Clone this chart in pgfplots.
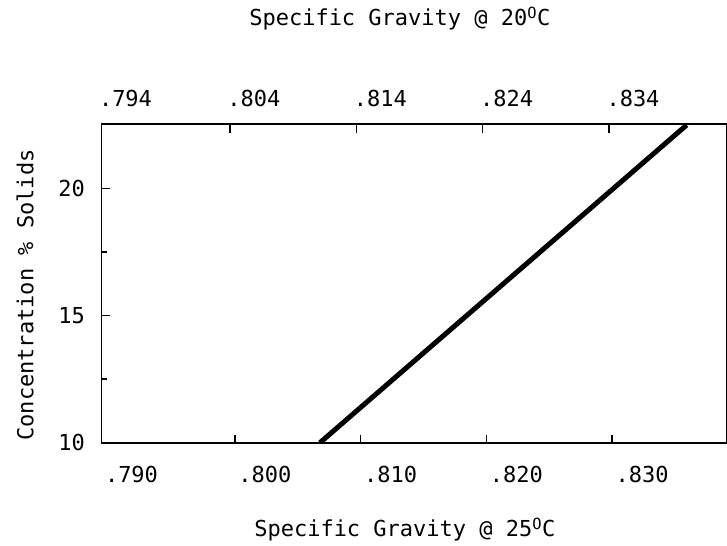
\documentclass[border=0pt]{standalone}
\usepackage{fontspec}
\setmainfont{DejaVu Sans Mono}
\usepackage{pgfplots}
\pgfplotsset{compat=1.18}
\begin{document}
\fontsize{22bp}{26bp}\selectfont
\begin{tikzpicture}
% bottom scale: specific gravity at 25 C
\begin{axis}[
  scale only axis,
  width=625.5bp, height=318.7bp,
  at={(0,0)}, anchor=south west,
  xmin=0.78938, xmax=0.83915,
  ymin=10, ymax=22.53,
  axis line style={line width=1.6bp},
  tick align=inside,
  xtick pos=left, ytick pos=left,
  xtick={0.78938,0.800,0.810,0.820,0.830},
  xticklabels={.790,.800,.810,.820,.830},
  ytick={10,15,20},
  yticklabels={10,15,20},
  minor ytick={12.5,17.5},
  major tick length=8bp, minor tick length=5bp,
  every tick/.style={black, line width=1.4bp},
  xticklabel style={anchor=north, xshift=30bp, yshift=-15.5bp},
  yticklabel style={anchor=east, xshift=-9bp},
  xlabel={Specific Gravity @ 25\textsuperscript{O}C},
  xlabel style={at={(axis description cs:0.485,-0.2954)}, anchor=base},
  ylabel={Concentration \% Solids},
  ylabel style={at={(axis description cs:-0.109,0.4634)}, anchor=base, rotate=0},
]
\addplot[black, line width=5bp] coordinates {(0.80676,10) (0.83594,22.49)};
\end{axis}
% top scale: specific gravity at 20 C
\begin{axis}[
  scale only axis,
  width=625.5bp, height=318.7bp,
  at={(0,0)}, anchor=south west,
  xmin=0.79383, xmax=0.84334,
  ymin=10, ymax=22.53,
  hide y axis,
  axis line style={line width=1.6bp},
  tick align=inside,
  xtick pos=right,
  xticklabel pos=right,
  xtick={0.79383,0.804,0.814,0.824,0.834},
  xticklabels={.794,.804,.814,.824,.834},
  major tick length=9bp,
  every tick/.style={black, line width=1.4bp},
  xticklabel style={anchor=south, xshift=24bp, yshift=10bp},
  title={Specific Gravity @ 20\textsuperscript{O}C},
  title style={at={(axis description cs:0.477,1.2896)}, anchor=base},
]
\end{axis}
\pgfresetboundingbox
\path[use as bounding box] (-101.5bp,-103.3bp) rectangle (625.5bp,442.7bp);
\end{tikzpicture}
\end{document}
